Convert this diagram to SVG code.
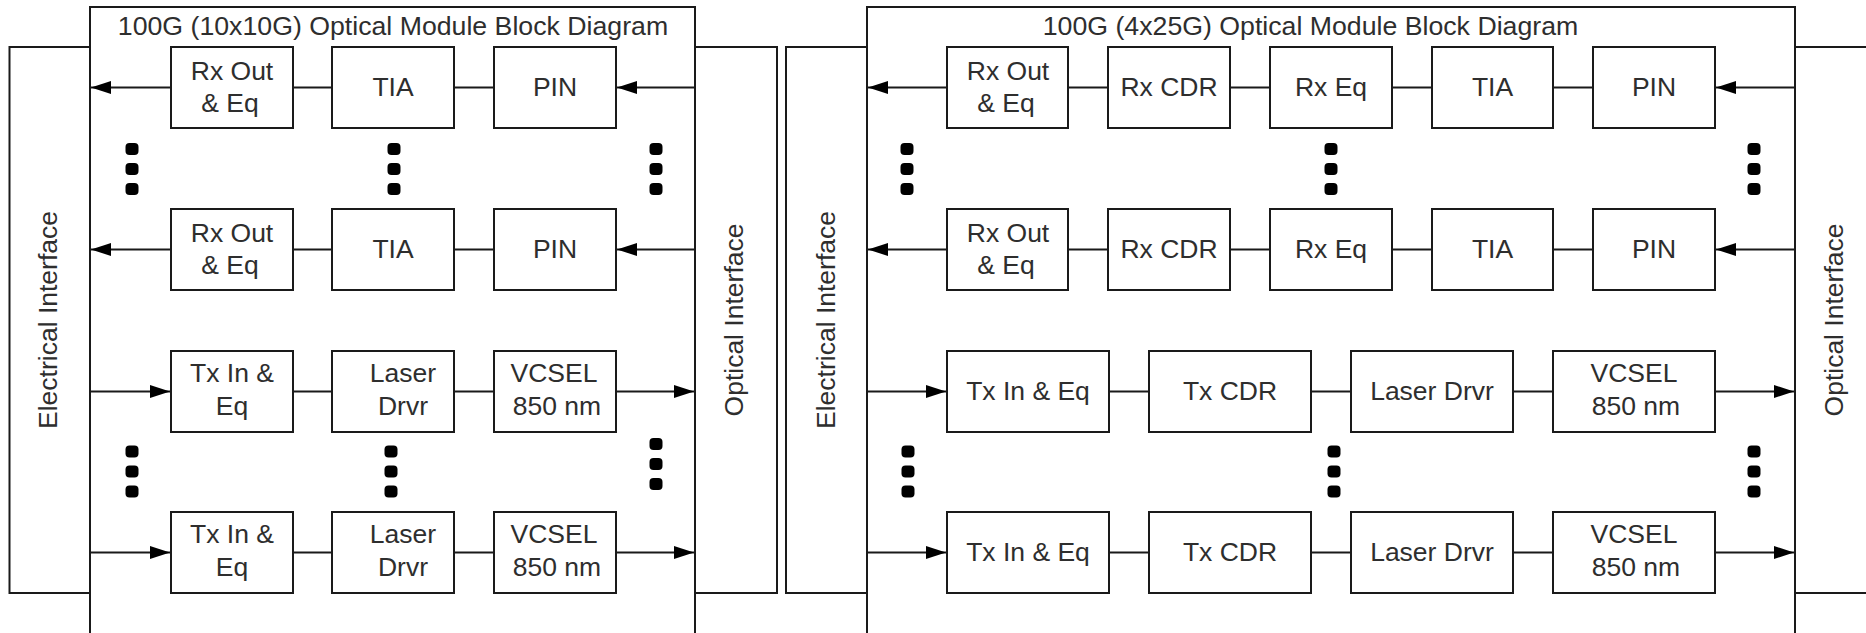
<svg xmlns="http://www.w3.org/2000/svg" width="1866" height="633" viewBox="0 0 1866 633">
<defs>
<style>
.frame{fill:#fff;stroke:#1a1a1a;stroke-width:2}
.blk{fill:#fff;stroke:#1a1a1a;stroke-width:2}
.t{font-family:"Liberation Sans",Arial,sans-serif;font-size:26.5px;fill:#2e2e2e;text-anchor:middle}
.title{font-family:"Liberation Sans",Arial,sans-serif;font-size:26.7px;fill:#2e2e2e;text-anchor:middle}
.c{stroke:#1a1a1a;stroke-width:2;fill:none}
.a{stroke:#1a1a1a;stroke-width:2;fill:none;marker-end:url(#ah)}
.dot{fill:#000}
</style>
<marker id="ah" markerUnits="userSpaceOnUse" markerWidth="21" markerHeight="14" refX="20" refY="6.5" orient="auto">
<path d="M0,0 L20,6.5 L0,13 z" fill="#000"/>
</marker>
<rect id="d" x="-6.5" y="-6" width="13" height="12" rx="4" class="dot"/>
<g id="dots"><use href="#d" y="-20"/><use href="#d"/><use href="#d" y="20"/></g>
</defs>
<rect width="1866" height="633" fill="#fff"/>

<!-- Left module -->
<g id="module-10x10">
<rect class="frame" x="90" y="7" width="605" height="640"/>
<text class="title" x="393" y="35">100G (10x10G) Optical Module Block Diagram</text>
</g>
<g id="elec-if-1">
<rect class="frame" x="9.5" y="47" width="80.5" height="546"/>
<text class="t" transform="translate(57,320) rotate(-90)">Electrical Interface</text>
</g>
<g id="opt-if-1">
<rect class="frame" x="695" y="47" width="82" height="546"/>
<text class="t" transform="translate(743,320) rotate(-90)">Optical Interface</text>
</g>

<!-- Right module -->
<g id="module-4x25">
<rect class="frame" x="867" y="7" width="928" height="640"/>
<text class="title" x="1310.5" y="35">100G (4x25G) Optical Module Block Diagram</text>
</g>
<g id="elec-if-2">
<rect class="frame" x="786" y="47" width="81" height="546"/>
<text class="t" transform="translate(835,320) rotate(-90)">Electrical Interface</text>
</g>
<g id="opt-if-2">
<rect class="frame" x="1795" y="47" width="100" height="546"/>
<text class="t" transform="translate(1843,320) rotate(-90)">Optical Interface</text>
</g>

<!-- Connectors -->
<g id="connectors">
<line class="a" x1="171" y1="87.5" x2="91" y2="87.5"/>
<line class="c" x1="293" y1="87.5" x2="332" y2="87.5"/>
<line class="c" x1="454" y1="87.5" x2="494" y2="87.5"/>
<line class="a" x1="695" y1="87.5" x2="617" y2="87.5"/>

<line class="a" x1="171" y1="249.5" x2="91" y2="249.5"/>
<line class="c" x1="293" y1="249.5" x2="332" y2="249.5"/>
<line class="c" x1="454" y1="249.5" x2="494" y2="249.5"/>
<line class="a" x1="695" y1="249.5" x2="617" y2="249.5"/>

<line class="a" x1="90" y1="391.5" x2="170" y2="391.5"/>
<line class="c" x1="293" y1="391.5" x2="332" y2="391.5"/>
<line class="c" x1="454" y1="391.5" x2="494" y2="391.5"/>
<line class="a" x1="616" y1="391.5" x2="694" y2="391.5"/>

<line class="a" x1="90" y1="552.5" x2="170" y2="552.5"/>
<line class="c" x1="293" y1="552.5" x2="332" y2="552.5"/>
<line class="c" x1="454" y1="552.5" x2="494" y2="552.5"/>
<line class="a" x1="616" y1="552.5" x2="694" y2="552.5"/>

<line class="a" x1="947" y1="87.5" x2="868" y2="87.5"/>
<line class="c" x1="1068" y1="87.5" x2="1108" y2="87.5"/>
<line class="c" x1="1230" y1="87.5" x2="1270" y2="87.5"/>
<line class="c" x1="1392" y1="87.5" x2="1432" y2="87.5"/>
<line class="c" x1="1553" y1="87.5" x2="1593" y2="87.5"/>
<line class="a" x1="1795" y1="87.5" x2="1716" y2="87.5"/>

<line class="a" x1="947" y1="249.5" x2="868" y2="249.5"/>
<line class="c" x1="1068" y1="249.5" x2="1108" y2="249.5"/>
<line class="c" x1="1230" y1="249.5" x2="1270" y2="249.5"/>
<line class="c" x1="1392" y1="249.5" x2="1432" y2="249.5"/>
<line class="c" x1="1553" y1="249.5" x2="1593" y2="249.5"/>
<line class="a" x1="1795" y1="249.5" x2="1716" y2="249.5"/>

<line class="a" x1="867" y1="391.5" x2="946" y2="391.5"/>
<line class="c" x1="1109" y1="391.5" x2="1149" y2="391.5"/>
<line class="c" x1="1311" y1="391.5" x2="1351" y2="391.5"/>
<line class="c" x1="1513" y1="391.5" x2="1553" y2="391.5"/>
<line class="a" x1="1715" y1="391.5" x2="1794" y2="391.5"/>

<line class="a" x1="867" y1="552.5" x2="946" y2="552.5"/>
<line class="c" x1="1109" y1="552.5" x2="1149" y2="552.5"/>
<line class="c" x1="1311" y1="552.5" x2="1351" y2="552.5"/>
<line class="c" x1="1513" y1="552.5" x2="1553" y2="552.5"/>
<line class="a" x1="1715" y1="552.5" x2="1794" y2="552.5"/>
</g>

<!-- Left module blocks -->
<g id="l-rxout-1"><rect class="blk" x="171" y="47" width="122" height="81"/><text class="t" x="232" y="80">Rx Out</text><text class="t" x="230" y="111.5">&amp; Eq</text></g>
<g id="l-tia-1"><rect class="blk" x="332" y="47" width="122" height="81"/><text class="t" x="393" y="96">TIA</text></g>
<g id="l-pin-1"><rect class="blk" x="494" y="47" width="122" height="81"/><text class="t" x="555" y="96">PIN</text></g>

<g id="l-rxout-2"><rect class="blk" x="171" y="209" width="122" height="81"/><text class="t" x="232" y="242">Rx Out</text><text class="t" x="230" y="273.5">&amp; Eq</text></g>
<g id="l-tia-2"><rect class="blk" x="332" y="209" width="122" height="81"/><text class="t" x="393" y="258">TIA</text></g>
<g id="l-pin-2"><rect class="blk" x="494" y="209" width="122" height="81"/><text class="t" x="555" y="258">PIN</text></g>

<g id="l-txin-1"><rect class="blk" x="171" y="351" width="122" height="81"/><text class="t" x="232" y="382">Tx In &amp;</text><text class="t" x="232" y="414.5">Eq</text></g>
<g id="l-ld-1"><rect class="blk" x="332" y="351" width="122" height="81"/><text class="t" x="403" y="382">Laser</text><text class="t" x="403" y="414.5">Drvr</text></g>
<g id="l-vcsel-1"><rect class="blk" x="494" y="351" width="122" height="81"/><text class="t" x="554" y="382">VCSEL</text><text class="t" x="557" y="414.5">850 nm</text></g>

<g id="l-txin-2"><rect class="blk" x="171" y="512" width="122" height="81"/><text class="t" x="232" y="543">Tx In &amp;</text><text class="t" x="232" y="575.5">Eq</text></g>
<g id="l-ld-2"><rect class="blk" x="332" y="512" width="122" height="81"/><text class="t" x="403" y="543">Laser</text><text class="t" x="403" y="575.5">Drvr</text></g>
<g id="l-vcsel-2"><rect class="blk" x="494" y="512" width="122" height="81"/><text class="t" x="554" y="543">VCSEL</text><text class="t" x="557" y="575.5">850 nm</text></g>

<!-- Right module blocks -->
<g id="r-rxout-1"><rect class="blk" x="947" y="47" width="121" height="81"/><text class="t" x="1008" y="80">Rx Out</text><text class="t" x="1006" y="111.5">&amp; Eq</text></g>
<g id="r-rxcdr-1"><rect class="blk" x="1108" y="47" width="122" height="81"/><text class="t" x="1169" y="96">Rx CDR</text></g>
<g id="r-rxeq-1"><rect class="blk" x="1270" y="47" width="122" height="81"/><text class="t" x="1331" y="96">Rx Eq</text></g>
<g id="r-tia-1"><rect class="blk" x="1432" y="47" width="121" height="81"/><text class="t" x="1492.5" y="96">TIA</text></g>
<g id="r-pin-1"><rect class="blk" x="1593" y="47" width="122" height="81"/><text class="t" x="1654" y="96">PIN</text></g>

<g id="r-rxout-2"><rect class="blk" x="947" y="209" width="121" height="81"/><text class="t" x="1008" y="242">Rx Out</text><text class="t" x="1006" y="273.5">&amp; Eq</text></g>
<g id="r-rxcdr-2"><rect class="blk" x="1108" y="209" width="122" height="81"/><text class="t" x="1169" y="258">Rx CDR</text></g>
<g id="r-rxeq-2"><rect class="blk" x="1270" y="209" width="122" height="81"/><text class="t" x="1331" y="258">Rx Eq</text></g>
<g id="r-tia-2"><rect class="blk" x="1432" y="209" width="121" height="81"/><text class="t" x="1492.5" y="258">TIA</text></g>
<g id="r-pin-2"><rect class="blk" x="1593" y="209" width="122" height="81"/><text class="t" x="1654" y="258">PIN</text></g>

<g id="r-txin-1"><rect class="blk" x="947" y="351" width="162" height="81"/><text class="t" x="1028" y="400">Tx In &amp; Eq</text></g>
<g id="r-txcdr-1"><rect class="blk" x="1149" y="351" width="162" height="81"/><text class="t" x="1230" y="400">Tx CDR</text></g>
<g id="r-ld-1"><rect class="blk" x="1351" y="351" width="162" height="81"/><text class="t" x="1432" y="400">Laser Drvr</text></g>
<g id="r-vcsel-1"><rect class="blk" x="1553" y="351" width="162" height="81"/><text class="t" x="1634" y="382">VCSEL</text><text class="t" x="1636" y="414.5">850 nm</text></g>

<g id="r-txin-2"><rect class="blk" x="947" y="512" width="162" height="81"/><text class="t" x="1028" y="561">Tx In &amp; Eq</text></g>
<g id="r-txcdr-2"><rect class="blk" x="1149" y="512" width="162" height="81"/><text class="t" x="1230" y="561">Tx CDR</text></g>
<g id="r-ld-2"><rect class="blk" x="1351" y="512" width="162" height="81"/><text class="t" x="1432" y="561">Laser Drvr</text></g>
<g id="r-vcsel-2"><rect class="blk" x="1553" y="512" width="162" height="81"/><text class="t" x="1634" y="543">VCSEL</text><text class="t" x="1636" y="575.5">850 nm</text></g>

<!-- Ellipsis dots -->
<g id="ellipses">
<use href="#dots" x="132" y="169"/>
<use href="#dots" x="394" y="169"/>
<use href="#dots" x="656" y="169"/>
<use href="#dots" x="132" y="471.5"/>
<use href="#dots" x="391" y="471.5"/>
<use href="#dots" x="656" y="464"/>
<use href="#dots" x="907" y="169"/>
<use href="#dots" x="1331" y="169"/>
<use href="#dots" x="1754" y="169"/>
<use href="#dots" x="908" y="471.5"/>
<use href="#dots" x="1334" y="471.5"/>
<use href="#dots" x="1754" y="471.5"/>
</g>
</svg>
